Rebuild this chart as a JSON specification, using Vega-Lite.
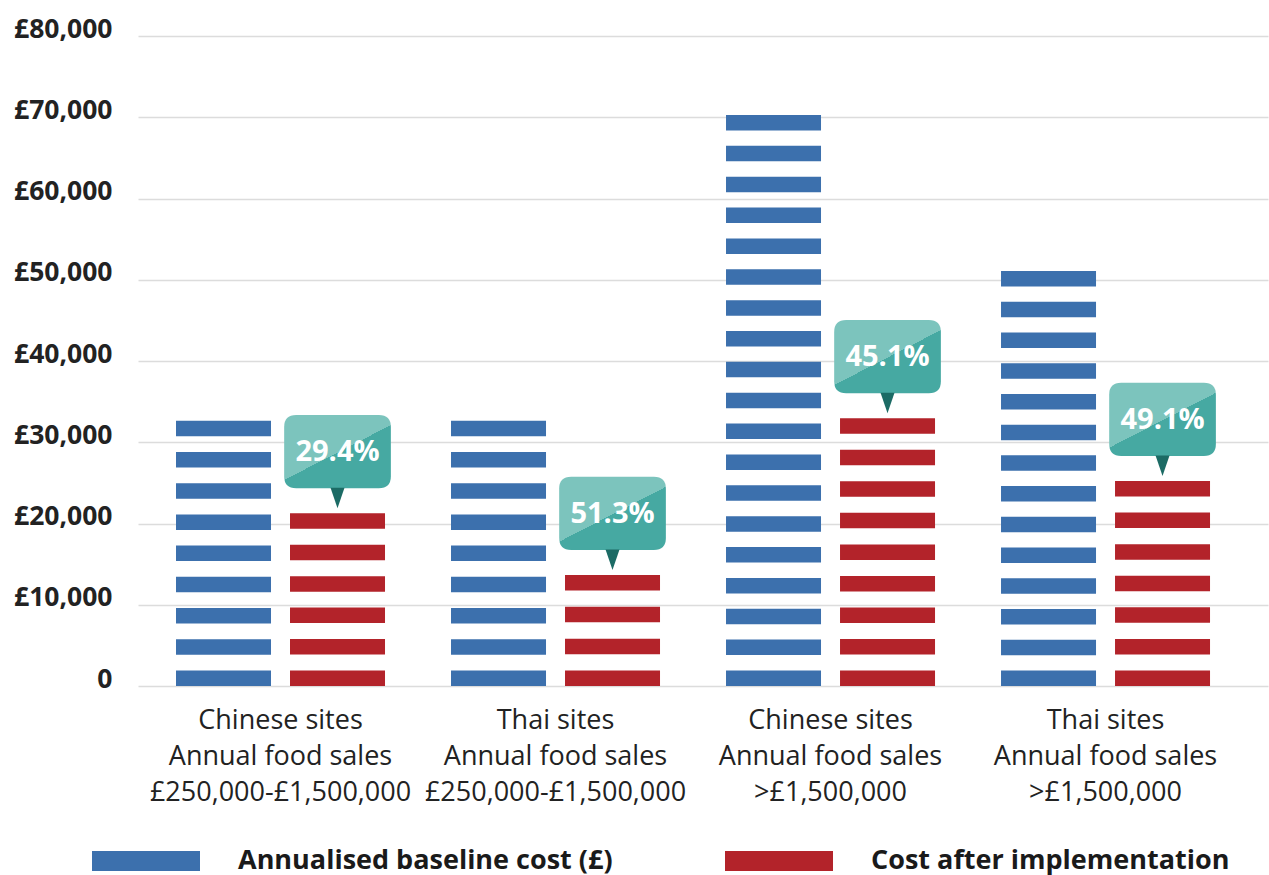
{
  "$schema": "https://vega.github.io/schema/vega-lite/v6.json",
  "width": 1130,
  "height": 650,
  "autosize": {"type": "none"},
  "padding": {"left": 138, "top": 36, "right": 1, "bottom": 189},
  "background": "white",
  "config": {"view": {"stroke": null}, "font": "Open Sans"},
  "data": {"values": [
    {"group": "Chinese sites|Annual food sales|£250,000-£1,500,000", "series": "Annualised baseline cost (£)", "id": "cs_b", "cost": 32650, "pct": ""},
    {"group": "Chinese sites|Annual food sales|£250,000-£1,500,000", "series": "Cost after implementation", "id": "cs_a", "cost": 21260, "pct": "29.4%"},
    {"group": "Thai sites|Annual food sales|£250,000-£1,500,000", "series": "Annualised baseline cost (£)", "id": "ts_b", "cost": 32650, "pct": ""},
    {"group": "Thai sites|Annual food sales|£250,000-£1,500,000", "series": "Cost after implementation", "id": "ts_a", "cost": 13660, "pct": "51.3%"},
    {"group": "Chinese sites|Annual food sales|>£1,500,000", "series": "Annualised baseline cost (£)", "id": "cl_b", "cost": 70280, "pct": ""},
    {"group": "Chinese sites|Annual food sales|>£1,500,000", "series": "Cost after implementation", "id": "cl_a", "cost": 32950, "pct": "45.1%"},
    {"group": "Thai sites|Annual food sales|>£1,500,000", "series": "Annualised baseline cost (£)", "id": "tl_b", "cost": 51080, "pct": ""},
    {"group": "Thai sites|Annual food sales|>£1,500,000", "series": "Cost after implementation", "id": "tl_a", "cost": 25230, "pct": "49.1%"}
  ]},
  "encoding": {
    "x": {
      "field": "group", "type": "nominal", "sort": null,
      "scale": {"paddingInner": 0.24, "paddingOuter": 0.1745, "align": 0.396},
      "axis": {
        "title": null, "domain": false, "ticks": false, "labelAngle": 0,
        "labelExpr": "split(datum.label, '|')",
        "labelFont": "Open Sans", "labelFontSize": 27, "labelLineHeight": 36,
        "labelColor": "#222222", "labelPadding": 21, "labelLimit": 500, "labelBaseline": "top"
      }
    },
    "xOffset": {"field": "series", "type": "nominal", "sort": null, "scale": {"paddingInner": 0.1667, "paddingOuter": 0}},
    "y": {
      "field": "cost", "type": "quantitative",
      "scale": {"domain": [0, 80000], "nice": false},
      "axis": {
        "title": null, "domain": false, "ticks": false, "grid": true,
        "values": [0, 10000, 20000, 30000, 40000, 50000, 60000, 70000, 80000],
        "gridColor": "#dcdcdc", "gridWidth": 1.5,
        "labelFont": "Open Sans", "labelFontWeight": "bold", "labelFontSize": 26.5,
        "labelColor": "#222222", "labelPadding": 26, "labelBaseline": "alphabetic", "labelOffset": 1,
        "labelExpr": "datum.value == 0 ? '0' : '£' + format(datum.value, ',')"
      }
    }
  },
  "layer": [
    {
      "mark": {"type": "rule", "strokeWidth": 95, "strokeCap": "butt"},
      "encoding": {
        "y2": {"datum": 0},
        "color": {
          "field": "series", "type": "nominal", "sort": null,
          "scale": {"range": ["#3c70ad", "#b3232a"]},
          "legend": {
            "orient": "none", "legendX": -46, "legendY": 771, "direction": "horizontal", "title": null,
            "symbolType": "M -1 -0.185 L 1 -0.185 L 1 0.185 L -1 0.185 Z", "symbolSize": 11664,
            "labelFont": "Open Sans", "labelFontSize": 27, "labelFontWeight": "bold", "labelColor": "#1a1a1a",
            "labelOffset": 38, "columnPadding": 112, "labelLimit": 600,
            "encode": {"symbols": {"update": {"fill": {"scale": "color", "field": "value"}, "stroke": {"value": "transparent"}, "strokeWidth": {"value": 0}, "opacity": {"value": 1}}}}
          }
        },
        "strokeDash": {
          "field": "id", "type": "nominal", "sort": null, "legend": null,
          "scale": {
            "domain": ["cs_b", "cs_a", "ts_b", "ts_a", "cl_b", "cl_a", "tl_b", "tl_a"],
            "range": [[15.5, 15.72], [15.5, 15.94], [15.5, 15.72], [15.5, 16.33], [15.5, 15.36], [15.5, 16.03], [15.5, 15.23], [15.5, 16.08]]
          }
        }
      }
    },
    {
      "transform": [{"filter": "datum.series == 'Cost after implementation'"}],
      "mark": {
        "type": "point", "filled": true, "opacity": 1, "strokeWidth": 0, "size": 11385,
        "shape": "M -0.775 -1.843 L 0.775 -1.843 Q 1 -1.843 1 -1.618 L 1 -0.694 Q 1 -0.469 0.775 -0.469 L -0.775 -0.469 Q -1 -0.469 -1 -0.694 L -1 -1.618 Q -1 -1.843 -0.775 -1.843 Z",
        "fill": {"gradient": "linear", "x1": 0, "y1": 0, "x2": 0.6, "y2": 0.8, "stops": [
          {"offset": 0, "color": "#7cc4bd"}, {"offset": 0.71, "color": "#7cc4bd"},
          {"offset": 0.71, "color": "#46a9a2"}, {"offset": 1, "color": "#46a9a2"}
        ]}
      }
    },
    {
      "transform": [{"filter": "datum.series == 'Cost after implementation'"}],
      "mark": {
        "type": "point", "filled": true, "opacity": 1, "strokeWidth": 0, "size": 11385,
        "shape": "M -0.131 -0.48 L 0.131 -0.48 L 0 -0.094 Z",
        "fill": "#1c6b65"
      }
    },
    {
      "transform": [{"filter": "datum.series == 'Cost after implementation'"}],
      "mark": {"type": "text", "font": "Open Sans", "fontSize": 29, "fontWeight": "bold", "color": "#ffffff", "baseline": "middle", "align": "center", "dy": -61},
      "encoding": {"text": {"field": "pct"}}
    }
  ]
}
